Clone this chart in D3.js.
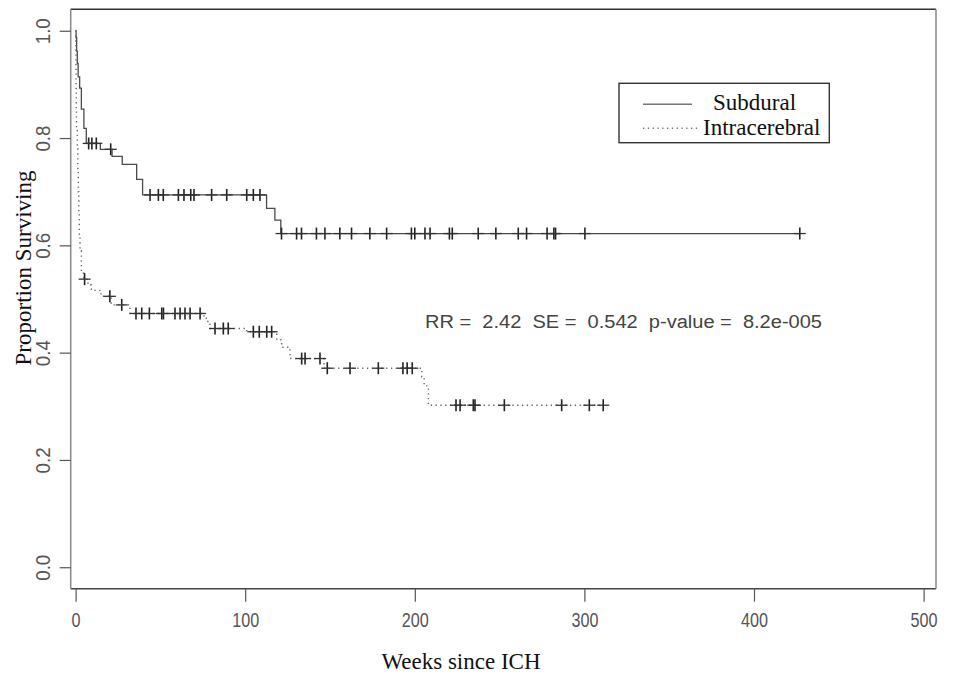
<!DOCTYPE html>
<html>
<head>
<meta charset="utf-8">
<script src="https://cdn.jsdelivr.net/npm/d3@7"></script>
<style>
  body { margin: 0; background: #fff; }
  svg { display: block; }
</style>
</head>
<body>
<script>
// Kaplan-Meier curves (weeks since ICH)
var subduralEventWeeks = [0.3, 0.6, 1.0, 1.5, 2.4, 3.4, 4.9, 6.3, 14.6, 21.5, 27.5, 36, 39.5, 112.6, 117.5, 121];
var subduralSurvival   = [0.987, 0.962, 0.939, 0.914, 0.893, 0.854, 0.818, 0.79, 0.779, 0.766, 0.751, 0.723, 0.694, 0.669, 0.647, 0.622];
var subduralCensorWeeks = [7.7, 9.6, 12.2, 20.7, 43.9, 48.8, 51.7, 60.6, 63.9, 67.9, 69.8, 80.2, 89.1, 100.9, 104.8, 108.7,
  121.4, 130.3, 133.2, 142, 147, 155.8, 162.7, 173.5, 183.4, 198, 200, 206, 209, 220.4, 222.1, 237.4, 247.8,
  261, 265.9, 278, 282, 283, 300.3, 427];

var intraEventWeeks = [0.1, 0.2, 0.3, 0.4, 0.5, 1.0, 1.3, 1.6, 1.9, 2.2, 2.6, 3.4, 4.9, 7.3, 9.3, 15, 21, 32,
  75.7, 78, 79.2, 100.9, 118.6, 121.5, 126.4, 146.5, 204.1, 205.5, 208];
var intraSurvival   = [0.97, 0.93, 0.89, 0.85, 0.818, 0.78, 0.74, 0.70, 0.66, 0.62, 0.59, 0.548, 0.537, 0.526, 0.516, 0.505, 0.489, 0.473,
  0.464, 0.455, 0.445, 0.439, 0.424, 0.41, 0.389, 0.371, 0.355, 0.338, 0.302];
var intraCensorWeeks = [5.3, 20.2, 27.2, 35.6, 39, 43.5, 50.8, 51.8, 58.6, 61.6, 64.5, 67.5, 73.4, 82.2, 87.1, 90,
  104.8, 108.3, 112.7, 115.6, 133.3, 135.3, 144.1, 148.4, 161.8, 178.5, 193, 195.5, 198.5,
  224.3, 226.7, 234.5, 235.5, 252.8, 286.6, 302.9, 311.1];

var xTicks = [0, 100, 200, 300, 400, 500];
var yTicks = [0, 0.2, 0.4, 0.6, 0.8, 1.0];
var seriesNames = ["Subdural", "Intracerebral"];
var statsText = "RR =  2.42  SE =  0.542  p-value =  8.2e-005";

var svgWidth = 956;
var svgHeight = 679;

// plot frame
var frame = { left: 70.7, right: 936, top: 9.3, bottom: 588.7 };

var svg = d3.select("body")
  .append("svg")
  .attr("width", svgWidth)
  .attr("height", svgHeight);

var xScale = d3.scaleLinear()
  .domain([0, 500])
  .range([75.6, 923.6]);

var yScale = d3.scaleLinear()
  .domain([-0.04, 1.04])
  .range([frame.bottom, frame.top]);

// step function helpers
function survivalAt(t, times, surv) {
  var s = 1;
  for (var i = 0; i < times.length; i++) {
    if (times[i] <= t) s = surv[i];
  }
  return s;
}

function stepPoints(times, surv, endTime) {
  var pts = [{ t: 0, s: 1 }];
  for (var i = 0; i < times.length; i++) {
    pts.push({ t: times[i], s: surv[i] });
  }
  pts.push({ t: endTime, s: surv[surv.length - 1] });
  return pts;
}

var drawStep = d3.line()
  .x(d => xScale(d.t))
  .y(d => yScale(d.s))
  .curve(d3.curveStepAfter);

// frame
svg.append("line").attr("x1", frame.left).attr("x2", frame.right).attr("y1", frame.top).attr("y2", frame.top)
  .attr("stroke", "#333").attr("stroke-width", 1.5);
svg.append("line").attr("x1", frame.left).attr("x2", frame.right).attr("y1", frame.bottom).attr("y2", frame.bottom)
  .attr("stroke", "#444").attr("stroke-width", 1.5);
svg.append("line").attr("x1", frame.left).attr("x2", frame.left).attr("y1", frame.top).attr("y2", frame.bottom)
  .attr("stroke", "#888").attr("stroke-width", 1.5);
svg.append("line").attr("x1", frame.right).attr("x2", frame.right).attr("y1", frame.top).attr("y2", frame.bottom)
  .attr("stroke", "#888").attr("stroke-width", 1.5);

// bottom axis
var bottomAxis = d3.axisBottom(xScale)
  .tickValues(xTicks)
  .tickSize(13)
  .tickPadding(11)
  .tickFormat(d3.format("d"));

var xAxisG = svg.append("g")
  .attr("transform", `translate(0, ${frame.bottom})`)
  .call(bottomAxis);
xAxisG.select(".domain").remove();
xAxisG.selectAll(".tick line").attr("stroke", "#555").attr("stroke-width", 1.2);
xAxisG.selectAll(".tick text")
  .attr("font-family", "'Liberation Sans', Arial, sans-serif")
  .attr("font-size", 20)
  .attr("fill", "#555")
  .attr("textLength", d => String(d).length * 9)
  .attr("lengthAdjust", "spacingAndGlyphs");

// left axis
var leftAxis = d3.axisLeft(yScale)
  .tickValues(yTicks)
  .tickSize(11)
  .tickFormat(d3.format(".1f"));

var yAxisG = svg.append("g")
  .attr("transform", `translate(${frame.left}, 0)`)
  .call(leftAxis);
yAxisG.select(".domain").remove();
yAxisG.selectAll(".tick line").attr("stroke", "#555").attr("stroke-width", 1.2);
yAxisG.selectAll(".tick text")
  .attr("x", null).attr("dy", null)
  .attr("transform", "translate(-22, 0) rotate(-90)")
  .attr("text-anchor", "middle")
  .attr("dy", "0.36em")
  .attr("font-family", "'Liberation Sans', Arial, sans-serif")
  .attr("font-size", 20)
  .attr("fill", "#555")
  .attr("textLength", 26)
  .attr("lengthAdjust", "spacingAndGlyphs");
yAxisG.selectAll(".tick text").attr("transform", function() {
  return "translate(-28, 0) rotate(-90)";
});

// curves
var subdEnd = d3.max(subduralCensorWeeks);
var intraEnd = d3.max(intraCensorWeeks);

svg.append("path")
  .attr("d", drawStep(stepPoints(subduralEventWeeks, subduralSurvival, subdEnd)))
  .attr("fill", "none")
  .attr("stroke", "#4a4a4a")
  .attr("stroke-width", 1.3);

svg.append("path")
  .attr("d", drawStep(stepPoints(intraEventWeeks, intraSurvival, intraEnd)))
  .attr("fill", "none")
  .attr("stroke", "#666")
  .attr("stroke-width", 1.4)
  .attr("stroke-dasharray", "1.3,3.5");

// censor marks
function drawMarks(times, evTimes, surv, withBar) {
  var g = svg.append("g");
  times.forEach(function(t) {
    var cx = xScale(t), cy = yScale(survivalAt(t, evTimes, surv));
    g.append("line").attr("x1", cx).attr("x2", cx).attr("y1", cy - 6).attr("y2", cy + 6)
      .attr("stroke", "#222").attr("stroke-width", 1.6);
    g.append("line").attr("x1", cx - 6).attr("x2", cx + 6).attr("y1", cy).attr("y2", cy)
      .attr("stroke", "#333").attr("stroke-width", 1.3);
  });
}
drawMarks(subduralCensorWeeks, subduralEventWeeks, subduralSurvival);
drawMarks(intraCensorWeeks, intraEventWeeks, intraSurvival);

// legend
var legend = svg.append("g");
legend.append("rect")
  .attr("x", 619).attr("y", 83.3).attr("width", 210.3).attr("height", 59.4)
  .attr("fill", "#fff").attr("stroke", "#333").attr("stroke-width", 1.4);
legend.append("line").attr("x1", 643).attr("x2", 692).attr("y1", 104.3).attr("y2", 104.3)
  .attr("stroke", "#777").attr("stroke-width", 1.4);
legend.append("line").attr("x1", 643).attr("x2", 697).attr("y1", 128.3).attr("y2", 128.3)
  .attr("stroke", "#777").attr("stroke-width", 1.4).attr("stroke-dasharray", "1.3,3.5");
legend.append("text").attr("x", 713).attr("y", 110).text(seriesNames[0])
  .attr("font-family", "'Liberation Serif', 'Times New Roman', serif").attr("font-size", 23).attr("fill", "#111");
legend.append("text").attr("x", 703).attr("y", 135).text(seriesNames[1])
  .attr("font-family", "'Liberation Serif', 'Times New Roman', serif").attr("font-size", 23).attr("fill", "#111");

// stats annotation
svg.append("text")
  .attr("x", 425).attr("y", 328)
  .attr("font-family", "'Liberation Sans', Arial, sans-serif")
  .attr("font-size", 18)
  .attr("fill", "#444")
  .attr("textLength", 397)
  .attr("lengthAdjust", "spacingAndGlyphs")
  .style("white-space", "pre")
  .text(statsText);

// axis titles
svg.append("text")
  .attr("x", 461).attr("y", 669)
  .attr("text-anchor", "middle")
  .attr("font-family", "'Liberation Serif', 'Times New Roman', serif")
  .attr("font-size", 23)
  .attr("fill", "#111")
  .text("Weeks since ICH");

svg.append("text")
  .attr("transform", "translate(31, 268) rotate(-90)")
  .attr("text-anchor", "middle")
  .attr("font-family", "'Liberation Serif', 'Times New Roman', serif")
  .attr("font-size", 23)
  .attr("fill", "#111")
  .text("Proportion Surviving");
</script>
</body>
</html>
